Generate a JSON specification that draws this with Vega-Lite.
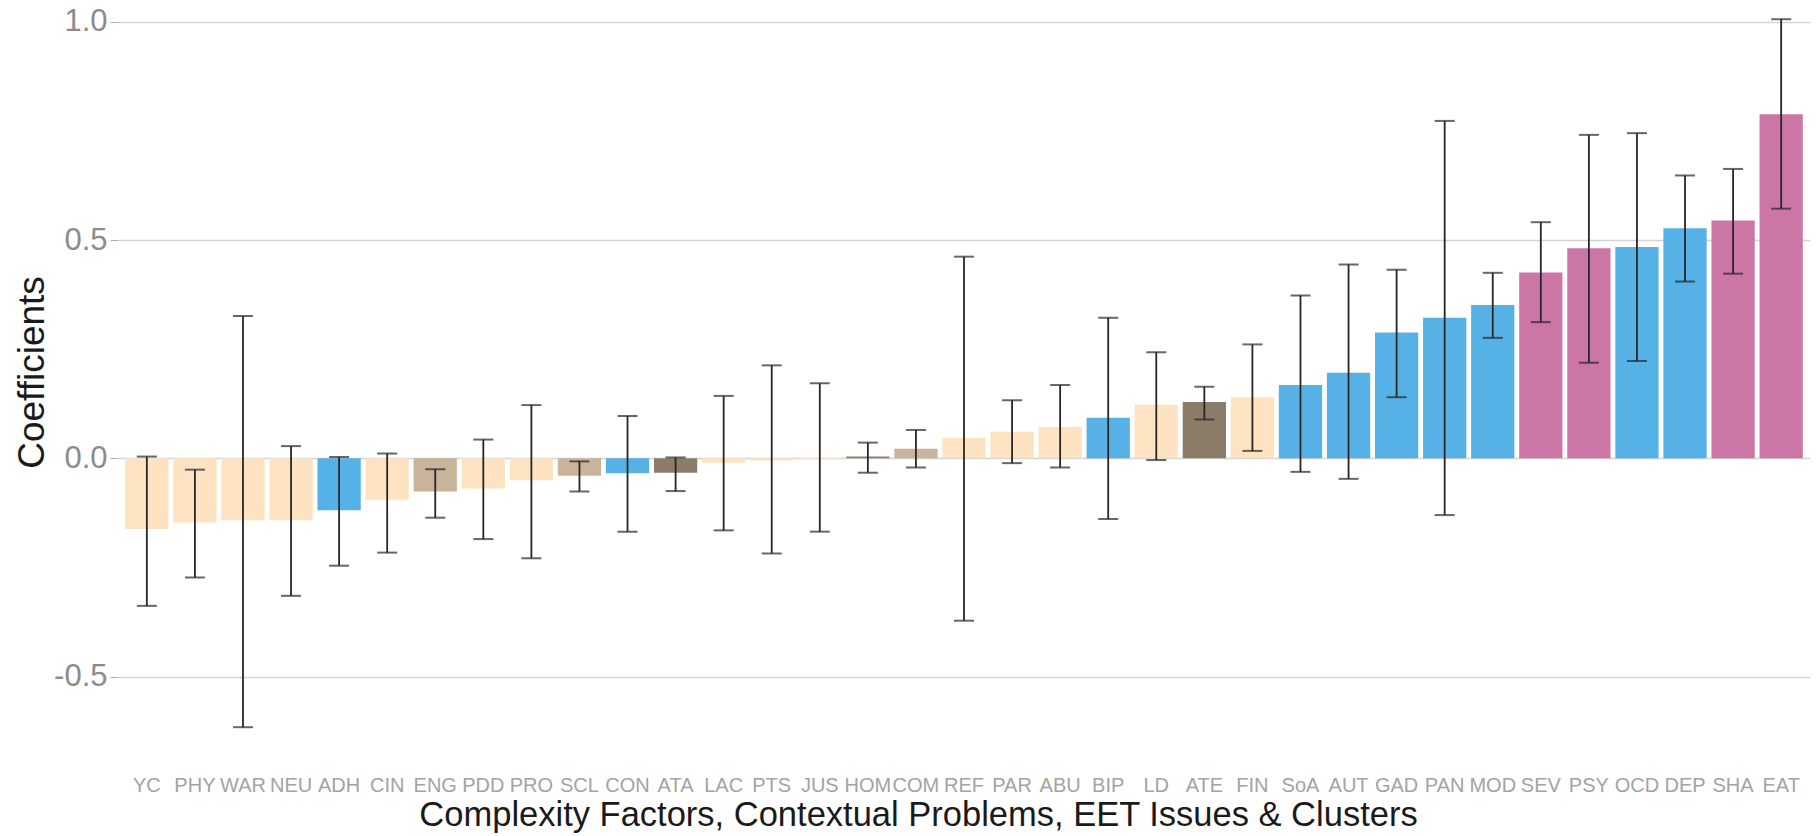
{
  "$schema": "https://vega.github.io/schema/vega-lite/v6.json",
  "autosize": "none",
  "padding": {"left": 118, "top": 0, "right": 10, "bottom": 73},
  "width": 1692,
  "height": 763,
  "background": "white",
  "config": {
    "view": {"stroke": null},
    "font": "Liberation Sans"
  },
  "data": {
    "values": [
      {"name": "YC", "coef": -0.162, "lo": -0.338, "hi": 0.004, "group": "peach"},
      {"name": "PHY", "coef": -0.147, "lo": -0.273, "hi": -0.026, "group": "peach"},
      {"name": "WAR", "coef": -0.142, "lo": -0.616, "hi": 0.326, "group": "peach"},
      {"name": "NEU", "coef": -0.142, "lo": -0.315, "hi": 0.028, "group": "peach"},
      {"name": "ADH", "coef": -0.119, "lo": -0.246, "hi": 0.003, "group": "blue"},
      {"name": "CIN", "coef": -0.095, "lo": -0.216, "hi": 0.011, "group": "peach"},
      {"name": "ENG", "coef": -0.076, "lo": -0.136, "hi": -0.025, "group": "tan"},
      {"name": "PDD", "coef": -0.069, "lo": -0.185, "hi": 0.043, "group": "peach"},
      {"name": "PRO", "coef": -0.05, "lo": -0.229, "hi": 0.122, "group": "peach"},
      {"name": "SCL", "coef": -0.04, "lo": -0.076, "hi": -0.007, "group": "tan"},
      {"name": "CON", "coef": -0.034, "lo": -0.168, "hi": 0.097, "group": "blue"},
      {"name": "ATA", "coef": -0.033, "lo": -0.075, "hi": 0.002, "group": "dark"},
      {"name": "LAC", "coef": -0.01, "lo": -0.165, "hi": 0.143, "group": "peach"},
      {"name": "PTS", "coef": -0.005, "lo": -0.218, "hi": 0.213, "group": "peach"},
      {"name": "JUS", "coef": -0.002, "lo": -0.168, "hi": 0.172, "group": "peach"},
      {"name": "HOM", "coef": 0.004, "lo": -0.033, "hi": 0.036, "group": "dark"},
      {"name": "COM", "coef": 0.022, "lo": -0.021, "hi": 0.065, "group": "tan"},
      {"name": "REF", "coef": 0.047, "lo": -0.372, "hi": 0.462, "group": "peach"},
      {"name": "PAR", "coef": 0.061, "lo": -0.011, "hi": 0.133, "group": "peach"},
      {"name": "ABU", "coef": 0.072, "lo": -0.021, "hi": 0.168, "group": "peach"},
      {"name": "BIP", "coef": 0.093, "lo": -0.139, "hi": 0.322, "group": "blue"},
      {"name": "LD", "coef": 0.123, "lo": -0.004, "hi": 0.243, "group": "peach"},
      {"name": "ATE", "coef": 0.129, "lo": 0.089, "hi": 0.164, "group": "dark"},
      {"name": "FIN", "coef": 0.14, "lo": 0.017, "hi": 0.261, "group": "peach"},
      {"name": "SoA", "coef": 0.168, "lo": -0.031, "hi": 0.373, "group": "blue"},
      {"name": "AUT", "coef": 0.196, "lo": -0.047, "hi": 0.444, "group": "blue"},
      {"name": "GAD", "coef": 0.288, "lo": 0.14, "hi": 0.432, "group": "blue"},
      {"name": "PAN", "coef": 0.322, "lo": -0.13, "hi": 0.773, "group": "blue"},
      {"name": "MOD", "coef": 0.351, "lo": 0.276, "hi": 0.425, "group": "blue"},
      {"name": "SEV", "coef": 0.426, "lo": 0.312, "hi": 0.541, "group": "pink"},
      {"name": "PSY", "coef": 0.481, "lo": 0.219, "hi": 0.741, "group": "pink"},
      {"name": "OCD", "coef": 0.484, "lo": 0.223, "hi": 0.745, "group": "blue"},
      {"name": "DEP", "coef": 0.527, "lo": 0.405, "hi": 0.648, "group": "blue"},
      {"name": "SHA", "coef": 0.545, "lo": 0.423, "hi": 0.663, "group": "pink"},
      {"name": "EAT", "coef": 0.788, "lo": 0.572, "hi": 1.006, "group": "pink"}
    ]
  },
  "encoding": {
    "x": {
      "field": "name",
      "type": "nominal",
      "sort": null,
      "scale": {"paddingInner": 0.1, "paddingOuter": 0.15},
      "axis": {
        "title": "Complexity Factors, Contextual Problems, EET Issues & Clusters",
        "titleFontSize": 34.5,
        "titleFontWeight": "normal",
        "titleColor": "#1a1a1a",
        "titleX": 800,
        "titleY": 62,
        "titleAlign": "center",
        "titleBaseline": "alphabetic",
        "labelAngle": 0,
        "labelFontSize": 20,
        "labelColor": "#a3a3a3",
        "labelPadding": 12,
        "ticks": false,
        "tickSize": 0,
        "domain": false,
        "grid": false,
        "labelOverlap": false
      }
    }
  },
  "layer": [
    {
      "mark": {"type": "bar"},
      "encoding": {
        "y": {
          "field": "coef",
          "type": "quantitative",
          "scale": {"domain": [-0.698, 1.05], "nice": false, "zero": false},
          "axis": {
            "title": "Coefficients",
            "titleFontSize": 37,
            "titleFontWeight": "normal",
            "titleColor": "#1a1a1a",
            "titleAngle": -90,
            "titleX": -75,
            "titleY": 372,
            "titleAlign": "center",
            "titleBaseline": "alphabetic",
            "values": [-0.5, 0, 0.5, 1],
            "labelExpr": "replace(format(datum.value, '.1f'), '\u2212', '-')",
            "labelFontSize": 31,
            "labelColor": "#8c8c8c",
            "labelPadding": 3,
            "tickSize": 8,
            "tickColor": "#b0b0b0",
            "tickWidth": 1,
            "domain": false,
            "grid": true,
            "gridColor": "#d4d4d4",
            "gridWidth": 1.6
          }
        },
        "y2": {"datum": 0},
        "color": {
          "field": "group",
          "type": "nominal",
          "scale": {
            "domain": ["peach", "tan", "dark", "blue", "pink"],
            "range": ["#fde3c1", "#c9b39b", "#8b7c68", "#56b1e6", "#cc76a6"]
          },
          "legend": null
        }
      }
    },
    {
      "mark": {"type": "rule", "color": "#262626", "strokeWidth": 1.8},
      "encoding": {
        "y": {"field": "lo", "type": "quantitative"},
        "y2": {"field": "hi"}
      }
    },
    {
      "mark": {"type": "tick", "color": "#262626", "size": 20, "thickness": 2},
      "encoding": {
        "y": {"field": "lo", "type": "quantitative"}
      }
    },
    {
      "mark": {"type": "tick", "color": "#262626", "size": 20, "thickness": 2},
      "encoding": {
        "y": {"field": "hi", "type": "quantitative"}
      }
    }
  ]
}
